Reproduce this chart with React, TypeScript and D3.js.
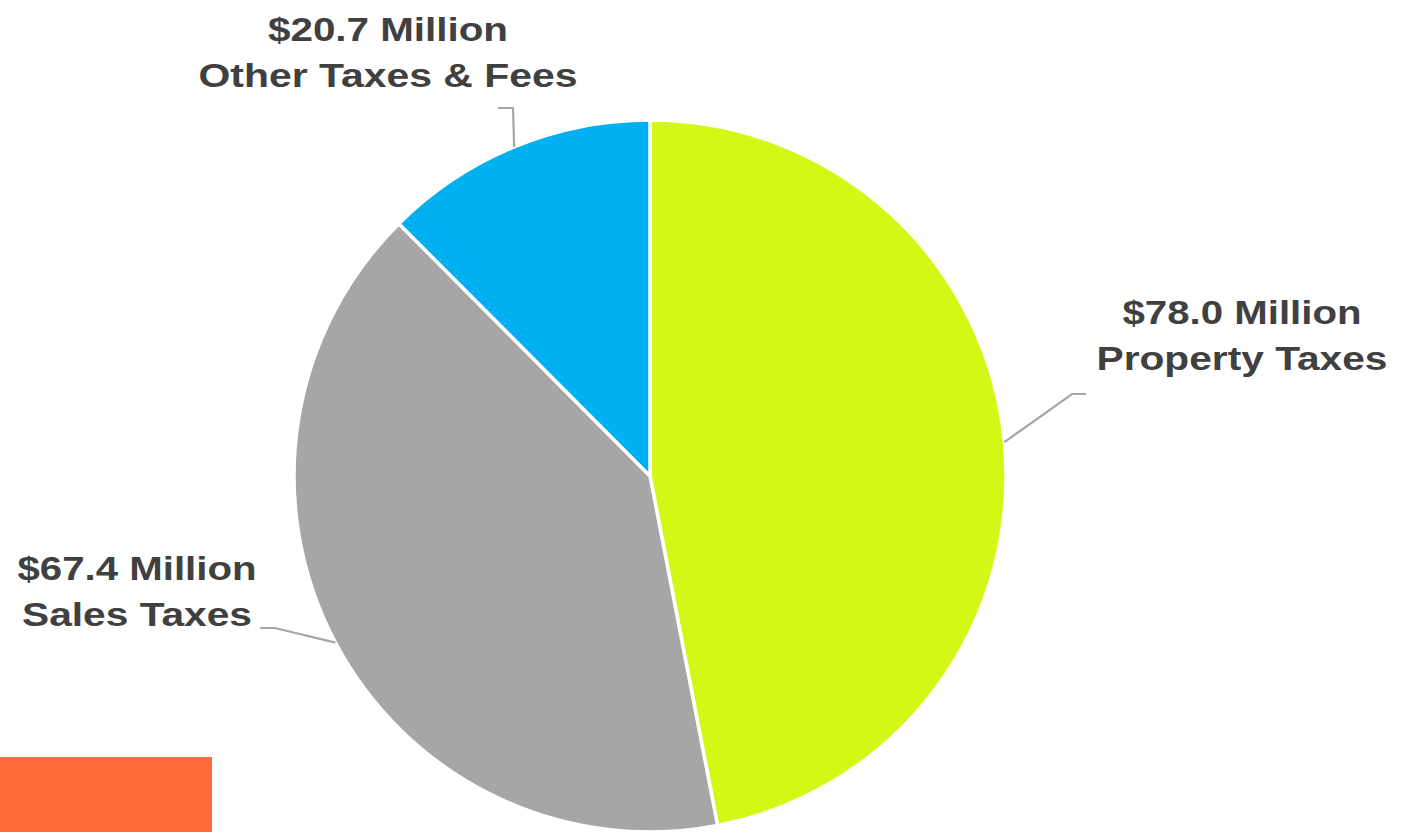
import React from "react";
import * as d3 from "d3";

const categories = ["Property Taxes", "Sales Taxes", "Other Taxes & Fees"];
const values = [78.0, 67.4, 20.7];
const amountLabels = ["$78.0 Million", "$67.4 Million", "$20.7 Million"];
const colors = ["#D4F715", "#A6A6A6", "#00B0F0"];

// layout (positions of labels and leader elbows)
const W = 1408;
const H = 832;
const cx = 650;
const cy = 476;
const R = 356;

type LabelLayout = {
  x: number;
  y1: number;
  y2: number;
  w1: number;
  w2: number;
  elbow: [number, number];
  end: [number, number];
};

const labelLayout: LabelLayout[] = [
  { x: 1242, y1: 324, y2: 370, w1: 239, w2: 291, elbow: [1072, 394], end: [1086, 394] },
  { x: 137, y1: 580, y2: 626, w1: 239, w2: 230, elbow: [275, 628], end: [260, 628] },
  { x: 388, y1: 41, y2: 87, w1: 240, w2: 379, elbow: [513, 108], end: [498, 108] },
];

export default function App() {
  const pie = d3
    .pie<number>()
    .sort(null)
    .value((d) => d)
    .startAngle(0)
    .endAngle(2 * Math.PI);
  const arcs = pie(values);
  const arcGen = d3.arc<d3.PieArcDatum<number>>().innerRadius(0).outerRadius(R);

  return (
    <svg
      width={W}
      height={H}
      style={{ position: "absolute", left: 0, top: 0, background: "#fff" }}
    >
      <rect x={0} y={0} width={W} height={H} fill="#fff" />
      <g transform={`translate(${cx},${cy})`}>
        {arcs.map((a, i) => (
          <path
            key={i}
            d={arcGen(a) || ""}
            fill={colors[i]}
            stroke="#fff"
            strokeWidth={3.5}
            strokeLinejoin="round"
          />
        ))}
      </g>
      {arcs.map((a, i) => {
        const mid = (a.startAngle + a.endAngle) / 2;
        const sx = cx + R * Math.sin(mid);
        const sy = cy - R * Math.cos(mid);
        const L = labelLayout[i];
        return (
          <polyline
            key={"l" + i}
            points={`${sx},${sy} ${L.elbow[0]},${L.elbow[1]} ${L.end[0]},${L.end[1]}`}
            fill="none"
            stroke="#A6A6A6"
            strokeWidth={2.2}
          />
        );
      })}
      {categories.map((c, i) => {
        const L = labelLayout[i];
        return (
          <g
            key={"t" + i}
            fontFamily="'Liberation Sans', Arial, sans-serif"
            fontWeight="bold"
            fontSize={34}
            fill="#404040"
            textAnchor="middle"
          >
            <text x={L.x} y={L.y1} textLength={L.w1} lengthAdjust="spacingAndGlyphs">
              {amountLabels[i]}
            </text>
            <text x={L.x} y={L.y2} textLength={L.w2} lengthAdjust="spacingAndGlyphs">
              {c}
            </text>
          </g>
        );
      })}
      <rect x={0} y={757} width={212} height={75} fill="#FF6B3B" />
    </svg>
  );
}
